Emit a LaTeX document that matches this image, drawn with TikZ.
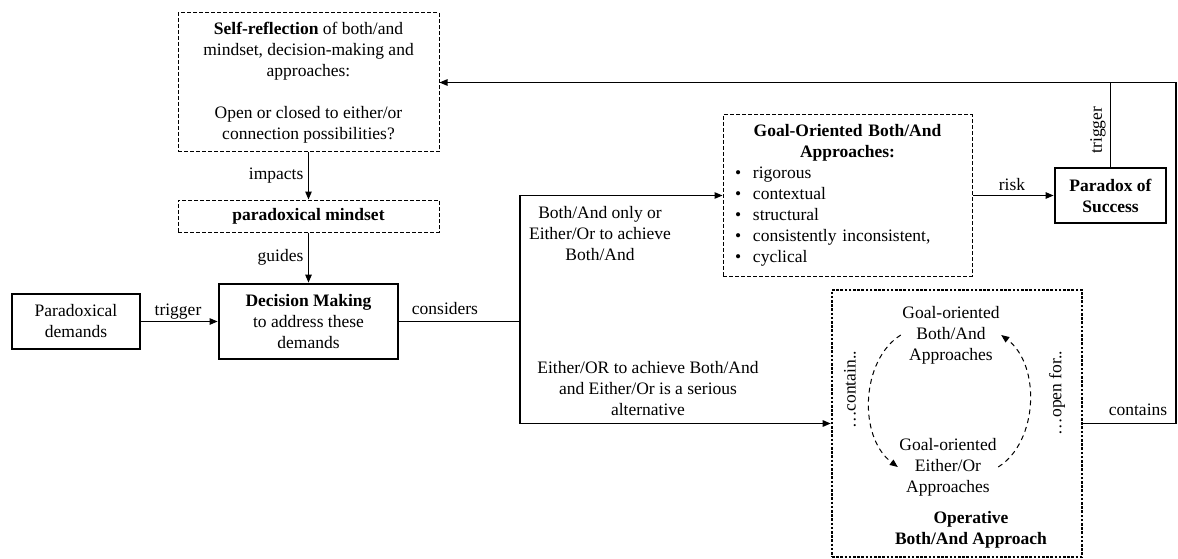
\documentclass[tikz,border=0pt]{standalone}
\usepackage{fontspec}
\setmainfont{Liberation Serif}
\usetikzlibrary{arrows.meta}

\newcommand{\gitem}{\hspace*{6pt}\makebox[18pt][l]{\textbullet}}

\begin{document}
\begin{tikzpicture}[x=1pt, y=-1pt, line width=1.2pt,
  font=\fontsize{17.5}{21}\selectfont,
  >={Triangle[length=8pt,width=6.5pt]},
  dashbox/.style={draw, line width=1pt, dash pattern=on 4pt off 2pt, align=center, inner sep=0pt},
  boldbox/.style={draw, line width=2.8pt, align=center, inner sep=0pt},
  dotbox/.style={draw, line width=2.6pt, dash pattern=on 2.6pt off 1.6pt, inner sep=0pt},
  lbl/.style={inner sep=1pt, align=center},
  loopline/.style={line width=1pt, dash pattern=on 5pt off 4pt}]

  \useasboundingbox (0,0) rectangle (1178,559);

  % Define the turning points of the connectors
  \coordinate (split) at (520,321.5);
  \coordinate (farright) at (1176,423.5);

  % Draw the boxes of the left column
  \node[dashbox, minimum width=261pt, minimum height=139pt] (selfref) at (308.5,82.5)
    {\textbf{Self-reflection} of both/and\\ mindset, decision-making and\\ approaches:\\[21pt]
     Open or closed to either/or\\ connection possibilities?};
  \node[dashbox, minimum width=261pt, minimum height=32pt] (mindset) at (308.5,216)
    {\textbf{paradoxical mindset}};
  \node[boldbox, minimum width=179pt, minimum height=75pt] (dm) at (308.5,321.5)
    {\textbf{Decision Making}\\ to address these\\ demands};
  \node[boldbox, minimum width=128pt, minimum height=55pt] (pd) at (76,321.5)
    {Paradoxical\\ demands};

  % Draw the approaches box and the paradox of success
  \node[dashbox, align=left, text width=237pt, inner xsep=6pt, minimum height=161pt] (goal) at (847.5,195.5)
    {{\centering\textbf{Goal-Oriented Both/And}\\ \textbf{Approaches:}\par}
     \gitem rigorous\\ \gitem contextual\\ \gitem structural\\
     \gitem consistently inconsistent,\\ \gitem cyclical};
  \node[boldbox, minimum width=111pt, minimum height=55pt] (ps) at (1110.5,195.5)
    {\textbf{Paradox of}\\ \textbf{Success}};

  % Draw the operative box with its two approaches
  \node[dotbox, minimum width=250pt, minimum height=267pt] (ops) at (957,423.5) {};
  \node[lbl] (gba) at (951,335) {Goal-oriented\\ Both/And\\ Approaches};
  \node[lbl] (geo) at (948,467) {Goal-oriented\\ Either/Or\\ Approaches};
  \node[lbl] (opl) at (971,530) {\textbf{Operative}\\ \textbf{Both/And Approach}};

  % Draw the connectors between the boxes
  \draw[->] (pd) -- (dm);
  \draw[->] (selfref) -- (mindset);
  \draw[->] (mindset) -- (dm);
  \draw (dm) -- (split);
  \draw[->] (split) |- (goal.west);
  \draw[->] (split) |- (ops.west);
  \draw[->] (goal) -- (ps);
  \draw (ops) -- (farright);
  \draw[->] (farright) |- (selfref.east);
  \draw (ps) -- (ps |- selfref.east);

  % Draw the dashed loop between the two approaches
  \draw[loopline, ->] (gba.west) .. controls +(-40,25) and +(-40,-30) .. (geo.west);
  \draw[loopline, ->] (geo.east) .. controls +(40,-25) and +(40,30) .. (gba.east);

  % Add the connector labels
  \node[lbl, anchor=east] (impacts) at (305,176) {impacts};
  \node[lbl, anchor=east] (guides) at (305,257) {guides};
  \node[lbl] (trig) at (178,312) {trigger};
  \node[lbl] (considers) at (445,309) {considers};
  \node[lbl] (onlyor) at (600,234) {Both/And only or\\ Either/Or to achieve\\ Both/And};
  \node[lbl] (serious) at (648,389) {Either/OR to achieve Both/And\\ and Either/Or is a serious\\ alternative};
  \node[lbl] (risk) at (1012,185) {risk};
  \node[lbl, rotate=90] (trigtop) at (1098,130) {trigger};
  \node[lbl] (contains) at (1138,410) {contains};
  \node[lbl, rotate=90] (contain) at (850,390) {\dots contain..};
  \node[lbl, rotate=90] (openfor) at (1057,393) {\dots open for..};

\end{tikzpicture}
\end{document}
